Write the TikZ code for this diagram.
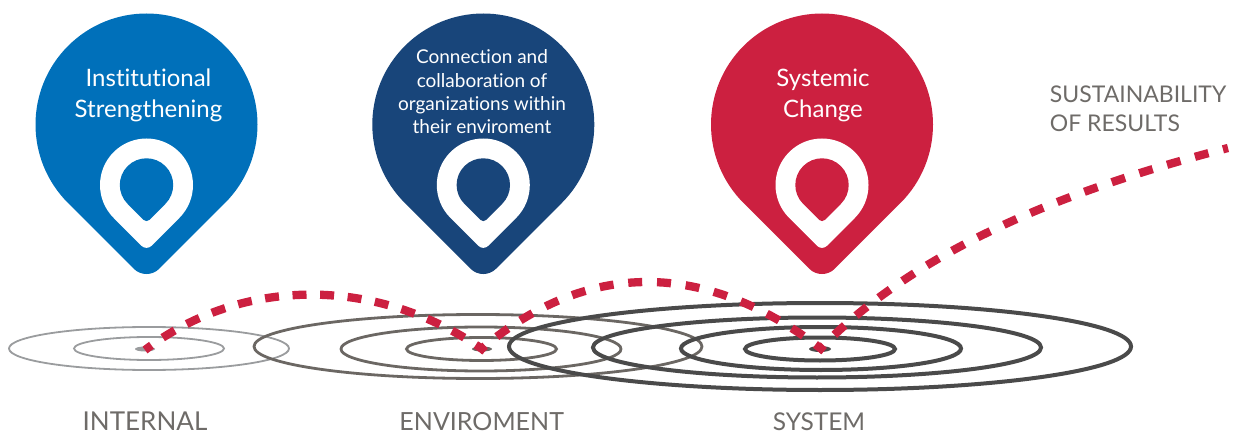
\documentclass[tikz,border=0pt]{standalone}
\usepackage{fontspec}
\setmainfont[Ligatures=CommonOff]{Lato}
\usetikzlibrary{calc}
\definecolor{pinblue}{HTML}{0070BA}
\definecolor{pinnavy}{HTML}{18457A}
\definecolor{pinred}{HTML}{CC2040}
\definecolor{labgrey}{HTML}{6E6B68}
\definecolor{ringa}{HTML}{9A9C9E}
\definecolor{ringb}{HTML}{6B6763}
\definecolor{ringc}{HTML}{4A4A4A}
% cx, cy, radius, tip radius
\newcommand{\pinpath}[4]{(#1,#2) ++(315:#3) arc[start angle=-45,end angle=225,radius=#3] -- ($(#1,#2)+(0,{-1.41421*(#3-#4)})+(225:#4)$) arc[start angle=225,end angle=315,radius=#4] -- cycle}
\begin{document}
\begin{tikzpicture}[x=1pt,y=1pt,line width=1.0pt,
  ring1/.style={draw=ringa,line width=1.8pt},
  ring2/.style={draw=ringb,line width=2.8pt},
  ring3/.style={draw=ringc,line width=4pt},
  trail/.style={draw=pinred,line width=8.3pt,dash pattern=on 14pt off #1pt,dash phase=6pt},
  pintext/.style={text=white,align=center,font=\fontsize{24}{31}\selectfont},
  pinsmall/.style={text=white,align=center,font=\fontsize{19}{23.3}\selectfont},
  lab/.style={text=labgrey,font=\fontsize{#1}{29}\selectfont},
  zone/.style={lab=#1,inner sep=0pt,anchor=base}]
\useasboundingbox (0,0) rectangle (1236,434);
\foreach \x/\col in {146.5/pinblue,483.3/pinnavy,822/pinred}{
  \fill[\col] \pinpath{\x}{309.5}{111}{18};
  \fill[white] \pinpath{\x}{249}{46.5}{7};
  \fill[\col] \pinpath{\x}{249}{26.7}{4};
};
% rings
\foreach \rx/\ry in {140/21.5,75/11.5}{\draw[ring1] (149,85.5) ellipse[x radius=\rx,y radius=\ry];};
\fill[ringa] (145,85) ellipse[x radius=10,y radius=2.5];
\draw[ring2] (478,87.5) ellipse[x radius=224,y radius=32];
\draw[ring2] (481,85) ellipse[x radius=140,y radius=22];
\draw[ring2] (481.5,85) ellipse[x radius=75,y radius=11.5];
\fill[ringb] (482,85) ellipse[x radius=10,y radius=2.5];
\draw[ring3] (820,87.5) ellipse[x radius=311,y radius=43.5];
\draw[ring3] (817,86.5) ellipse[x radius=224,y radius=30];
\draw[ring3] (821,85.5) ellipse[x radius=140,y radius=21.5];
\draw[ring3] (820,85) ellipse[x radius=75,y radius=11.5];
\fill[ringc] (820,85) ellipse[x radius=11,y radius=3];
% trail
\coordinate (s1) at (145,84);
\coordinate (e1) at (485,83);
\coordinate (s2) at (479,83);
\coordinate (e2) at (824,83);
\coordinate (s3) at (818,83);
\coordinate (e3) at (1228,286);
\draw[trail=13.6] (s1) .. controls (243,158) and (378,158) .. (e1);
\draw[trail=14.8] (s2) .. controls (586,175) and (706,175) .. (e2);
\draw[trail=15] (s3) .. controls (915,184) and (1065,244) .. (e3);
% labels
\node[pintext] (inst) at (148.5,339) {Institutional\\Strengthening};
\node[pinsmall] (conn) at (482,342) {Connection and\\collaboration of\\organizations within\\their enviroment};
\node[pintext] (syst) at (823,339) {Systemic\\Change};
\node[lab=23,align=left,anchor=north west] (sust) at (1046,352) {SUSTAINABILITY\\OF RESULTS};
\node[zone=26] (int) at (145,4) {INTERNAL};
\node[zone=25] (env) at (481.7,4) {ENVIROMENT};
\node[zone=24.5] (sys) at (819,4) {SYSTEM};
\end{tikzpicture}
\end{document}
